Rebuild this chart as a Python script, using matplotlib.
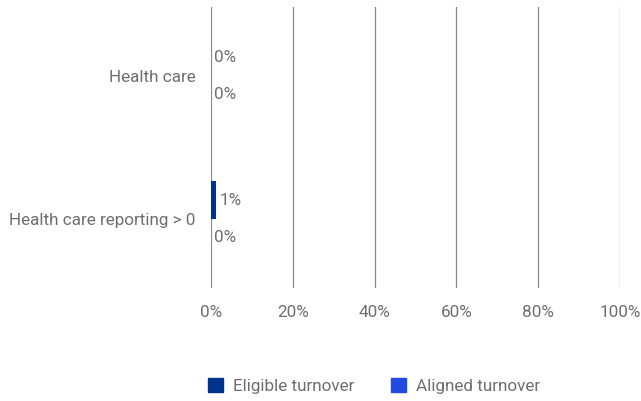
import matplotlib.pyplot as plt
from matplotlib.patches import Patch

categories = ["Health care", "Health care reporting > 0"]
eligible = [0.0, 1.3]
aligned = [0.0, 0.0]
eligible_labels = ["0%", "1%"]
aligned_labels = ["0%", "0%"]
xticks = [0, 20, 40, 60, 80, 100]

c_eligible = "#00338D"
c_aligned = "#1F4BE0"
text_col = "#6E6E6E"
grid_col = "#8A8A8A"
fs = 12.3

plt.rcParams["font.family"] = ["Roboto", "DejaVu Sans"]

fig = plt.figure(figsize=(6.41, 4.01), dpi=100)
ax = fig.add_axes([211 / 641, 1 - 288 / 401, 409 / 641, 281 / 401])

h = 0.262
ys = list(range(len(categories)))
ax.barh([y - h / 2 for y in ys], eligible, height=h, color=c_eligible, zorder=3)
ax.barh([y + h / 2 for y in ys], aligned, height=h, color=c_aligned, zorder=3)

for y, v, lab in zip(ys, eligible, eligible_labels):
    ax.annotate(lab, (v, y - h / 2), xytext=(2.2, 0), textcoords="offset points",
                va="center", ha="left", fontsize=fs, color=text_col)
for y, v, lab in zip(ys, aligned, aligned_labels):
    ax.annotate(lab, (v, y + h / 2), xytext=(2.2, 0), textcoords="offset points",
                va="center", ha="left", fontsize=fs, color=text_col)

ax.set_xlim(0, 100)
ax.set_ylim(1.484, -0.481)
ax.set_yticks(ys)
ax.set_yticklabels(categories)
ax.set_xticks(xticks)
ax.set_xticklabels([f"{t}%" for t in xticks])
ax.tick_params(axis="both", length=0, labelsize=fs, labelcolor=text_col)
ax.tick_params(axis="x", pad=12)
ax.tick_params(axis="y", pad=11)
ax.grid(axis="x", color=grid_col, linewidth=0.9, zorder=0)
for s in ax.spines.values():
    s.set_visible(False)

handles = [Patch(color=c_eligible, label="Eligible turnover"),
           Patch(color=c_aligned, label="Aligned turnover")]
fig.legend(handles=handles, loc="center", bbox_to_anchor=(374 / 641, 1 - 386 / 401),
           ncol=2, frameon=False, fontsize=fs, labelcolor=text_col,
           handlelength=0.9, handleheight=0.9, handletextpad=0.6, columnspacing=2.1)

fig.savefig("out.png", dpi=100)
